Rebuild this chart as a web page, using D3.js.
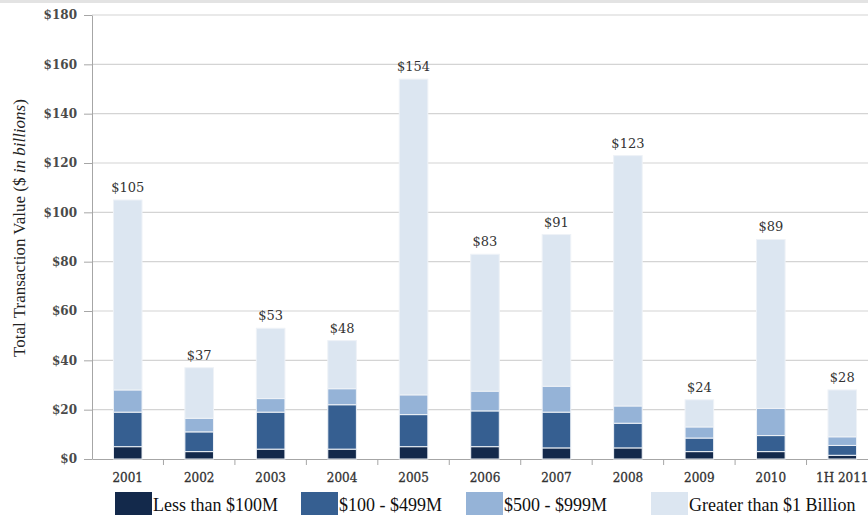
<!DOCTYPE html>
<html>
<head>
<meta charset="utf-8">
<script src="https://cdn.jsdelivr.net/npm/d3@7"></script>
<style>
  body { margin: 0; background: #fff; }
  text { font-family: "Liberation Serif", "DejaVu Serif", serif; }
  .wide { font-family: "DejaVu Serif", serif; }
</style>
</head>
<body>
<div id="theGraph"></div>
<script>
const years = ["2001", "2002", "2003", "2004", "2005", "2006", "2007", "2008", "2009", "2010", "1H 2011"];
const totals = [105, 37, 53, 48, 154, 83, 91, 123, 24, 89, 28];
const lessThan100M = [5, 3, 4, 4, 5, 5, 4.5, 4.5, 3, 3, 1.5];
const from100To499M = [14, 8, 15, 18, 13, 14.5, 14.5, 10, 5.5, 6.5, 4];
const from500To999M = [9, 5.5, 5.5, 6.5, 8, 8, 10.5, 7, 4.5, 11, 3.5];
const over1B = [77, 20.5, 28.5, 19.5, 128, 55.5, 61.5, 101.5, 11, 68.5, 19];
const seriesNames = ["Less than $100M", "$100 - $499M", "$500 - $999M", "Greater than $1 Billion"];
const colors = ["#13294b", "#365f91", "#95b3d7", "#dce6f1"];
const yTicks = [0, 20, 40, 60, 80, 100, 120, 140, 160, 180];

const width = 868, height = 515,
    margin = {left: 92, top: 15, right: -10, bottom: 56},
    contentWidth = width - margin.left - margin.right,
    contentHeight = height - margin.top - margin.bottom;

const svg = d3.select("#theGraph").append("svg").attr("width", width).attr("height", height);

// faint band along the top edge
svg.append("rect").attr("x", 0).attr("y", 0).attr("width", width).attr("height", 3).attr("fill", "#e3e3e3");

const maing = svg.append("g").attr("transform", `translate(${margin.left}, ${margin.top})`);

const table = years.map((y, i) => ({
    year: y, total: totals[i],
    s0: lessThan100M[i], s1: from100To499M[i], s2: from500To999M[i], s3: over1B[i]
}));
const stack = d3.stack().keys(["s0", "s1", "s2", "s3"])(table);

const xScale = d3.scaleBand().domain(years).range([0, contentWidth]).paddingInner(0.6).paddingOuter(0.3);
const yScale = d3.scaleLinear().domain([0, 180]).range([contentHeight, 0]);

//grid
maing.selectAll(".grid").data(yTicks.filter(d => d > 0)).enter().append("line")
    .attr("x1", 0).attr("x2", contentWidth)
    .attr("y1", d => yScale(d)).attr("y2", d => yScale(d))
    .attr("stroke", "#d4d4d4").attr("stroke-width", 1.2);

//y axis
const yAxis = maing.append("g")
    .call(d3.axisLeft(yScale).tickValues(yTicks).tickFormat(d => "$" + d).tickSize(8).tickSizeOuter(0));
yAxis.select(".domain").attr("stroke", "#a6a6a6");
yAxis.selectAll(".tick line").attr("stroke", "#a6a6a6");
yAxis.selectAll("text").attr("class", "wide").attr("font-size", 12).attr("font-weight", "bold").attr("fill", "#4a4a4a").attr("dx", -4);

//x axis
const xAxis = maing.append("g").attr("transform", `translate(0, ${contentHeight})`)
    .call(d3.axisBottom(xScale).tickSize(0).tickSizeOuter(0));
xAxis.select(".domain").attr("stroke", "#a6a6a6");
xAxis.selectAll("text").attr("class", "wide").attr("font-size", 12).attr("fill", "#333")
    .attr("stroke", "#333").attr("stroke-width", 0.3).attr("dy", "1.7em");
// ticks between categories
const step = xScale.step();
maing.selectAll(".xtick").data(d3.range(1, years.length + 1)).enter().append("line")
    .attr("x1", d => d * step).attr("x2", d => d * step)
    .attr("y1", contentHeight).attr("y2", contentHeight + 6)
    .attr("stroke", "#a6a6a6");

//bars
const layers = maing.selectAll(".layer").data(stack).enter().append("g")
    .attr("fill", (d, i) => colors[i]);
layers.selectAll("rect").data(d => d).enter().append("rect")
    .attr("x", d => xScale(d.data.year))
    .attr("y", d => yScale(d[1]))
    .attr("width", xScale.bandwidth())
    .attr("height", d => yScale(d[0]) - yScale(d[1]))
    .attr("stroke", "#eef2f7").attr("stroke-width", 1);

//totals
maing.selectAll(".total").data(table).enter().append("text")
    .attr("class", "wide")
    .attr("x", d => xScale(d.year) + xScale.bandwidth() / 2)
    .attr("y", d => yScale(d.total) - 8)
    .attr("text-anchor", "middle").attr("font-size", 13).attr("fill", "#333")
    .text(d => "$" + d.total);

//y title
const title = svg.append("text").attr("transform", "translate(25, 228) rotate(-90)")
    .attr("text-anchor", "middle").attr("font-size", 17).attr("fill", "#222");
title.append("tspan").text("Total Transaction Value ($ ");
title.append("tspan").attr("font-style", "italic").text("in billions");
title.append("tspan").text(")");

//legend
const legendX = [115, 301, 466, 651];
const legend = svg.selectAll(".legend").data(seriesNames).enter().append("g")
    .attr("transform", (d, i) => `translate(${legendX[i]}, 492)`);
legend.append("rect").attr("width", 37).attr("height", 23).attr("fill", (d, i) => colors[i]);
legend.append("text").attr("x", 38).attr("y", 19).attr("font-size", 18).attr("fill", "#111").text(d => d);
</script>
</body>
</html>
